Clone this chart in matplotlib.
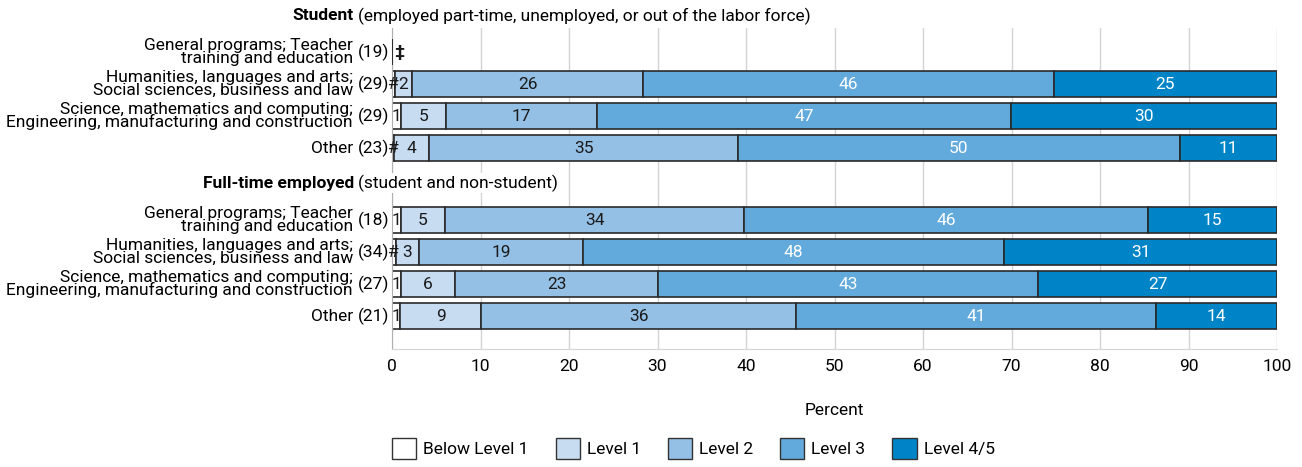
import numpy as np
import matplotlib
matplotlib.use("Agg")
import matplotlib.pyplot as plt
from matplotlib.patches import Patch
from matplotlib.transforms import blended_transform_factory

plt.rcParams["font.family"] = ["Roboto", "DejaVu Sans"]

# --- Data (percent) ---
categories = [
    "General programs; Teacher\ntraining and education",
    "Humanities, languages and arts;\nSocial sciences, business and law",
    "Science, mathematics and computing;\nEngineering, manufacturing and construction",
    "Other",
]
levels = ["Below Level 1", "Level 1", "Level 2", "Level 3", "Level 4/5"]

student_n = [19, 29, 29, 23]
student_below1 = [np.nan, 0.3, 1.0, 0.2]
student_level1 = [np.nan, 2.0, 5.1, 4.0]
student_level2 = [np.nan, 26.1, 17.1, 34.9]
student_level3 = [np.nan, 46.4, 46.7, 49.9]
student_level45 = [np.nan, 25.2, 30.1, 11.0]

fulltime_n = [18, 34, 27, 21]
fulltime_below1 = [1.0, 0.4, 1.0, 0.9]
fulltime_level1 = [5.0, 2.6, 6.1, 9.2]
fulltime_level2 = [33.8, 18.6, 23.0, 35.6]
fulltime_level3 = [45.6, 47.6, 42.9, 40.6]
fulltime_level45 = [14.6, 30.8, 27.0, 13.7]

xticks = list(range(0, 101, 10))

# --- Style ---
colors = ["#ffffff", "#c7dcf1", "#95c0e6", "#62a9dc", "#0084c8"]
text_colors = ["#1a1a1a", "#1a1a1a", "#1a1a1a", "#ffffff", "#ffffff"]
edge = "#2a2a2a"
fs = 12.5

groups = [
    ("Student", "(employed part-time, unemployed, or out of the labor force)",
     student_n,
     [student_below1, student_level1, student_level2, student_level3, student_level45],
     -1.125, [0, 1, 2, 3]),
    ("Full-time employed", "(student and non-student)",
     fulltime_n,
     [fulltime_below1, fulltime_level1, fulltime_level2, fulltime_level3, fulltime_level45],
     4.1, [5.25, 6.25, 7.25, 8.25]),
]

fig = plt.figure(figsize=(13.02, 4.67), dpi=100)
ax = fig.add_axes([392 / 1302, 1 - 349 / 467, 885 / 1302, 321 / 467])
trans = blended_transform_factory(ax.transAxes, ax.transData)
height = 0.8

for bold, rest, counts, series, head_y, ypos in groups:
    ax.text(-0.0430, head_y, bold, transform=trans, ha="right", va="center",
            fontsize=fs, fontweight="bold", clip_on=False,
            bbox=dict(facecolor="white", edgecolor="none", pad=1))
    ax.text(-0.0385, head_y, rest, transform=trans, ha="left", va="center",
            fontsize=fs, clip_on=False,
            bbox=dict(facecolor="white", edgecolor="none", pad=1))
    for i, y in enumerate(ypos):
        ax.text(-0.0441, y, categories[i], transform=trans, ha="right", va="center",
                fontsize=fs, linespacing=0.8, clip_on=False)
        ax.text(-0.0034, y, f"({counts[i]})", transform=trans, ha="right",
                va="center", fontsize=fs, clip_on=False)
        vals = [s[i] for s in series]
        if all(np.isnan(v) for v in vals):
            # reporting standards not met
            ax.barh(y, 0, height=height, color="white", edgecolor=edge,
                    linewidth=1.4, zorder=3)
            ax.text(0.25, y, "\u2021", ha="left", va="center", fontsize=fs,
                    fontweight="bold", color="#1a1a1a")
            continue
        left = 0.0
        for k, v in enumerate(vals):
            ax.barh(y, v, left=left, height=height, color=colors[k],
                    edgecolor=edge, linewidth=1.2, zorder=2)
            lab = "#" if round(v) == 0 else f"{v:.0f}"
            ax.text(left + v / 2, y, lab, ha="center", va="center", fontsize=fs,
                    color=text_colors[k], zorder=3)
            left += v

ax.set_xlim(0, 100)
ax.set_ylim(9.28, -0.75)
ax.set_xticks(xticks)
ax.set_yticks([])
ax.tick_params(axis="x", length=0, pad=7, labelsize=fs)
ax.grid(axis="x", color="#d4d4d4", linewidth=1)
ax.set_axisbelow(True)
for s in ["top", "right"]:
    ax.spines[s].set_visible(False)
ax.spines["left"].set_color("#b0b0b0")
ax.spines["bottom"].set_color("#d4d4d4")

ax.text(0.5, -0.193, "Percent", transform=ax.transAxes, ha="center",
        va="center", fontsize=fs)

handles = [Patch(facecolor=c, edgecolor="#333333", linewidth=1) for c in colors]
ax.legend(handles, levels, loc="upper left", bbox_to_anchor=(0.0, -0.277),
          ncol=5, frameon=False, fontsize=fs, handlelength=1.4,
          handleheight=1.5, handletextpad=0.4, columnspacing=1.55,
          borderpad=0, borderaxespad=0)

fig.savefig("out.png", dpi=100)
